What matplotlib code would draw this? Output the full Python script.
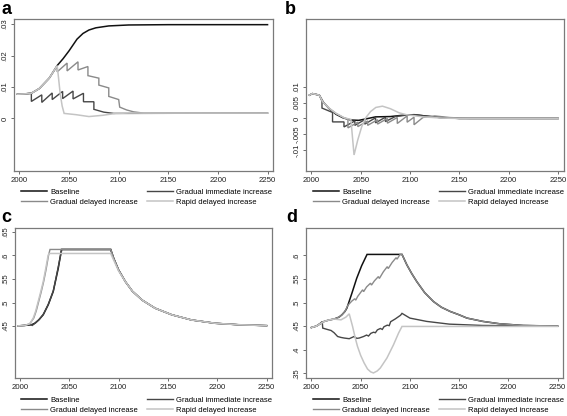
import matplotlib
matplotlib.use("Agg")
import matplotlib.pyplot as plt

plt.rcParams['font.family'] = ['Liberation Sans', 'DejaVu Sans']

W, H = 567, 416

# ---------------------------------------------------------------------------
# data: (year, value) points per series
names = ['Baseline', 'Gradual immediate increase',
         'Gradual delayed increase', 'Rapid delayed increase']
colors = ['#111111', '#474747', '#8a8a8a', '#c4c4c4']
widths = [1.1, 1.0, 1.0, 1.1]

xticks = [2000, 2050, 2100, 2150, 2200, 2250]

# panel a
a_base = [(1998, .0077), (2005, .0078), (2012, .0080), (2020, .0095), (2030, .0128),
          (2038, .0168), (2044, .0190), (2050, .0215), (2058, .0252), (2064, .0270),
          (2070, .0281), (2077, .0288), (2090, .0294), (2110, .0297), (2150, .0298),
          (2250, .0298)]
a_imm = [(1998, .0077), (2005, .0078), (2012, .0080), (2012, .0054), (2022.5, .0075),
         (2022.5, .0051), (2033, .0081), (2033, .0060), (2043.5, .0086), (2043.5, .0063),
         (2054, .0087), (2054, .0062), (2064.5, .0080), (2064.5, .0053), (2075, .0053),
         (2075, .0029), (2085, .0020), (2095, .0016), (2110, .0016), (2250, .0017)]
a_del = [(1998, .0077), (2005, .0078), (2012, .0080), (2020, .0095), (2030, .0128),
         (2038, .0166), (2038, .0148), (2048, .0176), (2048, .0151), (2059, .0180),
         (2059, .0154), (2069, .0165), (2069, .0136), (2080, .0128), (2080, .0106),
         (2090, .0097), (2090, .0070), (2100, .0060), (2101, .0036), (2108, .0027),
         (2115, .0021), (2125, .0017), (2250, .0017)]
a_rap = [(1998, .0077), (2005, .0078), (2012, .0080), (2020, .0095), (2030, .0128),
         (2038, .0168), (2039, .0140), (2041, .0080), (2043, .0040), (2045, .0016),
         (2057, .0012), (2070, .0006), (2084, .0010), (2097, .0016), (2110, .0017),
         (2250, .0017)]

# panel b
b_base = [(1998, .0074), (2001, .0079), (2008, .0074), (2012, .0052), (2018, .0031),
          (2025, .0013), (2032, .0002), (2040, -.0005), (2048, -.0006), (2056, -.0001),
          (2065, .0005), (2080, .0006), (2092, .0010), (2104, .0012), (2115, .0008),
          (2130, .0003), (2150, .0000), (2250, .0000)]
b_imm = [(1998, .0074), (2001, .0079), (2008, .0074), (2010.7, .0055), (2010.7, .0033),
         (2021.4, .0019), (2021.4, -.0011), (2033, -.0011), (2033, -.0027), (2044, -.0008),
         (2044, -.0022), (2054, -.0004), (2054, -.0018), (2065, .0002), (2065, -.0014),
         (2075, .0004), (2075, -.0010), (2085, .0006), (2095, .0010), (2105, .0012),
         (2115, .0008), (2130, .0003), (2150, .0000), (2250, .0000)]
b_del = [(1998, .0074), (2001, .0079), (2008, .0074), (2011.4, .0053), (2018, .0032),
         (2025, .0016), (2033, .0002), (2037, -.0002), (2037, -.0030), (2047, -.0012),
         (2047, -.0026), (2057, -.0008), (2057, -.0022), (2067, -.0004), (2067, -.0018),
         (2077, .0000), (2077, -.0015), (2087, .0003), (2087, -.0016), (2097, .0008),
         (2097, -.0012), (2104, .0004), (2104, -.0020), (2113, .0003), (2125, .0008),
         (2140, .0003), (2160, .0000), (2250, .0000)]
b_rap = [(1998, .0074), (2001, .0079), (2008, .0074), (2011.4, .0053), (2018.2, .0032),
         (2024.9, .0016), (2033.3, .0002), (2040, -.0003), (2043.2, -.0116), (2047, -.0068),
         (2051, -.0026), (2055, .0002), (2060, .0022), (2065.3, .0035), (2072, .0039),
         (2080, .0031), (2088.8, .0018), (2096, .0012), (2113, .0005), (2133, .0001),
         (2150, .0000), (2250, .0000)]

# panel c
c_tail = [(2095, .594), (2100, .569), (2107, .544), (2114, .524), (2124, .505),
          (2137, .488), (2154, .474), (2174, .463), (2198, .456), (2221, .453),
          (2250, .451)]
c_base = [(1998, .4505), (2005, .4515), (2011.7, .4527), (2015.2, .4563), (2019, .463),
          (2023.6, .474), (2028.6, .495), (2033.7, .523), (2038.8, .572), (2042.1, .6125),
          (2092, .6125)]
c_imm = [(1998, .4505), (2005, .4515), (2011, .4540), (2012.5, .4515), (2016, .4570),
         (2020, .465), (2024, .476), (2029, .497), (2034, .526), (2039, .577),
         (2042.5, .6125), (2092, .6125)]
c_del = [(1998, .4505), (2005, .4515), (2010, .455), (2014, .467), (2016.5, .482),
         (2019, .502), (2021.5, .522), (2024, .544), (2026.5, .570), (2029, .600),
         (2030.5, .6125), (2092, .6125)]
c_rap = [(1998, .4505), (2005, .4515), (2010, .455), (2013.5, .467), (2016, .482),
         (2018.5, .502), (2021, .522), (2023.6, .544), (2026, .570), (2028.6, .600),
         (2029.5, .604), (2092, .604), (2095, .590), (2100, .567)]

# panel d
d_tail = [(2097, .5796), (2102, .561), (2107, .5444), (2115, .521), (2124, .502),
          (2132, .490), (2141, .481), (2150, .474), (2158, .467), (2174, .460),
          (2191, .455), (2215, .4514), (2250, .450)]
d_base = [(2000, .447), (2005, .450), (2009, .455), (2013, .460), (2018, .463),
          (2023, .465), (2028, .469), (2031, .474), (2034, .481), (2036, .488),
          (2041, .519), (2046, .5514), (2051, .578), (2056.5, .602), (2092, .602)]
d_imm = [(2000, .447), (2005, .450), (2009, .456), (2011, .4597), (2011.5, .4458),
         (2016, .443), (2020, .4407), (2023, .436), (2026.6, .428), (2030, .426),
         (2033.3, .4247), (2038.4, .4233), (2043.4, .428), (2046, .424), (2048.5, .4247),
         (2053, .428), (2056, .431), (2058, .429), (2060.3, .4346), (2063, .437),
         (2065, .436), (2067, .442), (2070, .445), (2072, .443), (2073.7, .4487),
         (2077, .452), (2079, .451), (2080.5, .4594), (2085, .465), (2090.5, .473),
         (2092, .477), (2100, .467), (2117, .460), (2140, .4542), (2174, .4514),
         (2250, .450)]
d_del = [(2000, .447), (2005, .450), (2009, .455), (2013, .460), (2018, .463),
         (2023, .465), (2028, .469), (2031, .474), (2034, .481), (2037, .494),
         (2041, .503), (2044, .508), (2045, .505), (2047, .513), (2052, .527),
         (2053, .523), (2056, .533), (2060, .541), (2061, .537), (2064, .546),
         (2068, .555), (2069, .551), (2073, .565), (2077, .576), (2078, .572),
         (2082, .585), (2086, .595), (2087, .592), (2090, .602), (2092, .602)]
d_rap = [(2000, .447), (2005, .450), (2009, .455), (2013, .460), (2018, .463),
         (2023, .465), (2030, .4633), (2035, .469), (2038.4, .476), (2041.8, .4493),
         (2044.5, .425), (2046.8, .407), (2050, .388), (2053.5, .372), (2057, .359),
         (2060.2, .353), (2063, .3507), (2066.9, .355), (2070, .3613), (2076.7, .3824),
         (2083.4, .4106), (2088.5, .4352), (2092, .4493), (2250, .4493)]

panels = {
    'a': [a_base, a_imm, a_del, a_rap],
    'b': [b_base, b_imm, b_del, b_rap],
    'c': [c_base + c_tail, c_imm + c_tail, c_del + c_tail, c_rap + c_tail[2:]],
    'd': [d_base + d_tail, d_imm, d_del + d_tail, d_rap],
}
yticks = {
    'a': ([0, .01, .02, .03], ['0', '.01', '.02', '.03']),
    'b': ([-.01, -.005, 0, .005, .01], ['-.01', '-.005', '0', '.005', '.01']),
    'c': ([.45, .5, .55, .6, .65], ['.45', '.5', '.55', '.6', '.65']),
    'd': ([.35, .4, .45, .5, .55, .6], ['.35', '.4', '.45', '.5', '.55', '.6']),
}
ylims = {'a': (-0.0167, 0.0316), 'b': (-0.0167, 0.0316),
         'c': (0.340, 0.658), 'd': (0.340, 0.658)}

# ---------------------------------------------------------------------------
# layout in pixels: left, right, top, bottom of plot frame
boxes = {'a': (14, 273, 19, 171), 'b': (306, 563.5, 19, 171),
         'c': (14.5, 272, 228, 378), 'd': (306, 563, 228, 378)}
legend_at = {'a': (21, 188.5), 'b': (313, 188.5), 'c': (21, 396.5), 'd': (313, 396.5)}
label_at = {'a': (1, 14), 'b': (285, 14), 'c': (1, 222), 'd': (286, 222)}

fig = plt.figure(figsize=(W / 100, H / 100), dpi=100)

for key in ['a', 'b', 'c', 'd']:
    l, r, t, b = boxes[key]
    ax = fig.add_axes([l / W, 1 - b / H, (r - l) / W, (b - t) / H])
    lines = []
    for pts, c, lw, nm in zip(panels[key], colors, widths, names):
        xs = [p[0] for p in pts]
        ys = [p[1] for p in pts]
        ln, = ax.plot(xs, ys, color=c, lw=lw, label=nm, solid_joinstyle='miter')
        lines.append(ln)
    ax.set_xlim(1994.5, 2255.5)
    ax.set_ylim(*ylims[key])
    ax.set_xticks(xticks)
    ax.set_xticklabels([str(x) for x in xticks])
    ax.set_yticks(yticks[key][0])
    ax.set_yticklabels(yticks[key][1], rotation=90, va='center')
    ax.tick_params(direction='out', length=2.5, width=0.6, color='#555555',
                   labelsize=5.6, pad=1.5, labelcolor='#222222')
    for sp in ax.spines.values():
        sp.set_color('#7a7a7a')
        sp.set_linewidth(0.9)

    lx, ly = legend_at[key]
    order = [0, 2, 1, 3]
    ax.legend([lines[i] for i in order], [names[i] for i in order], ncol=2,
              loc='upper left', bbox_to_anchor=(lx / W, 1 - ly / H),
              bbox_transform=fig.transFigure, frameon=False, fontsize=5.5,
              borderpad=0, borderaxespad=0, handlelength=3.4, handletextpad=0.45,
              columnspacing=1.15, labelspacing=0.35)

    px, py = label_at[key]
    fig.text(px / W, 1 - py / H, key, fontsize=13, fontweight='bold',
             ha='left', va='baseline')

fig.savefig('out.png', dpi=100, facecolor='white')
